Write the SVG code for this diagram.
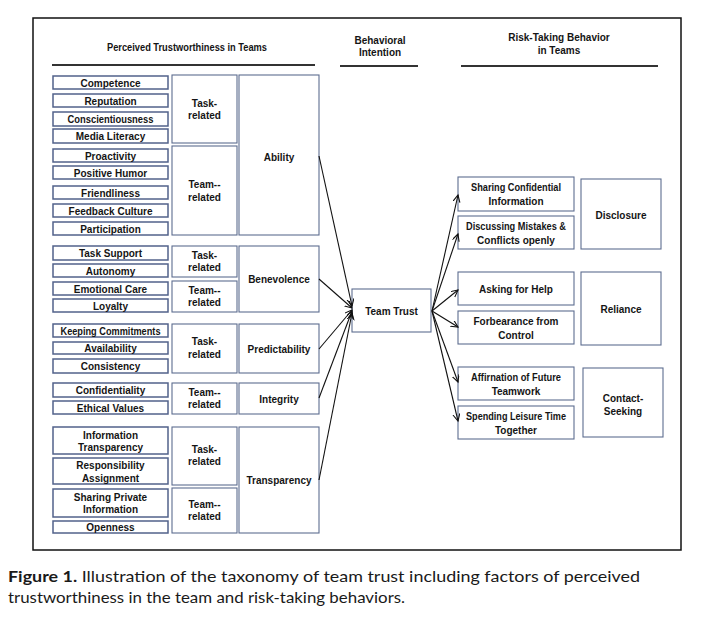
<svg xmlns="http://www.w3.org/2000/svg" width="713" height="627" viewBox="0 0 713 627">
<style>
  .bg { fill: #ffffff; }
  .frame { fill: none; stroke: #111; stroke-width: 1.5; }
  .hdr { stroke: #333; stroke-width: 2; }
  .b1 { fill: #fff; stroke: #52628a; stroke-width: 1.5; }
  .b2 { fill: #fff; stroke: #5d6d90; stroke-width: 1.1; }
  text.t { font-family: "Liberation Sans", Arial, sans-serif; font-weight: bold; font-size: 10px; fill: #151515; text-anchor: middle; }
  .cap { font-family: Lato, "Open Sans", sans-serif; font-size: 15px; fill: #1a1a1a; }
  .edge { fill: none; stroke: #111; stroke-width: 1.1; marker-end: url(#ah); }
</style>
<defs>
  <marker id="ah" markerUnits="userSpaceOnUse" markerWidth="10" markerHeight="10" refX="7" refY="3.5" orient="auto">
    <path d="M0,0 L7,3.5 L0,7" fill="none" stroke="#111" stroke-width="1.1"/>
  </marker>
</defs>
<rect class="bg" x="0" y="0" width="713" height="627"/>
<rect class="frame" x="33" y="18" width="648" height="532"/>

<g id="headers">
  <text class="t" x="187" y="51" textLength="160" lengthAdjust="spacingAndGlyphs">Perceived Trustworthiness in Teams</text>
  <line class="hdr" x1="52" y1="65" x2="315" y2="65"/>
  <text class="t" x="380" y="44">Behavioral</text>
  <text class="t" x="380" y="56">Intention</text>
  <line class="hdr" x1="340" y1="66" x2="418" y2="66"/>
  <text class="t" x="559" y="41">Risk-Taking Behavior</text>
  <text class="t" x="559" y="54">in Teams</text>
  <line class="hdr" x1="461" y1="66" x2="658" y2="66"/>
</g>

<!-- Column 1: items -->
<g id="competence"><rect class="b1" x="53" y="76" width="115" height="13"/><text class="t" x="110.5" y="86.5">Competence</text></g>
<g id="reputation"><rect class="b1" x="53" y="94" width="115" height="13"/><text class="t" x="110.5" y="104.5">Reputation</text></g>
<g id="conscientiousness"><rect class="b1" x="53" y="112" width="115" height="14"/><text class="t" x="110.5" y="123" textLength="86" lengthAdjust="spacingAndGlyphs">Conscientiousness</text></g>
<g id="media-literacy"><rect class="b1" x="53" y="129" width="115" height="14"/><text class="t" x="110.5" y="140">Media Literacy</text></g>
<g id="proactivity"><rect class="b1" x="53" y="149" width="115" height="13"/><text class="t" x="110.5" y="159.5">Proactivity</text></g>
<g id="positive-humor"><rect class="b1" x="53" y="166" width="115" height="13"/><text class="t" x="110.5" y="176.5">Positive Humor</text></g>
<g id="friendliness"><rect class="b1" x="53" y="186" width="115" height="13"/><text class="t" x="110.5" y="196.5">Friendliness</text></g>
<g id="feedback-culture"><rect class="b1" x="53" y="204" width="115" height="13"/><text class="t" x="110.5" y="214.5">Feedback Culture</text></g>
<g id="participation"><rect class="b1" x="53" y="222" width="115" height="13"/><text class="t" x="110.5" y="232.5">Participation</text></g>

<g id="task-support"><rect class="b1" x="53" y="246" width="115" height="14"/><text class="t" x="110.5" y="257">Task Support</text></g>
<g id="autonomy"><rect class="b1" x="53" y="264" width="115" height="13"/><text class="t" x="110.5" y="274.5">Autonomy</text></g>
<g id="emotional-care"><rect class="b1" x="53" y="282" width="115" height="13"/><text class="t" x="110.5" y="292.5">Emotional Care</text></g>
<g id="loyalty"><rect class="b1" x="53" y="299" width="115" height="13"/><text class="t" x="110.5" y="309.5">Loyalty</text></g>

<g id="keeping-commitments"><rect class="b1" x="53" y="324" width="115" height="13"/><text class="t" x="110.5" y="334.5" textLength="100" lengthAdjust="spacingAndGlyphs">Keeping Commitments</text></g>
<g id="availability"><rect class="b1" x="53" y="342" width="115" height="12"/><text class="t" x="110.5" y="352">Availability</text></g>
<g id="consistency"><rect class="b1" x="53" y="359" width="115" height="14"/><text class="t" x="110.5" y="370">Consistency</text></g>

<g id="confidentiality"><rect class="b1" x="53" y="383" width="115" height="14"/><text class="t" x="110.5" y="394">Confidentiality</text></g>
<g id="ethical-values"><rect class="b1" x="53" y="401" width="115" height="13"/><text class="t" x="110.5" y="411.5">Ethical Values</text></g>

<g id="information-transparency"><rect class="b1" x="53" y="427" width="115" height="27"/><text class="t" x="110.5" y="438.5">Information</text><text class="t" x="110.5" y="451">Transparency</text></g>
<g id="responsibility-assignment"><rect class="b1" x="53" y="458" width="115" height="26"/><text class="t" x="110.5" y="469">Responsibility</text><text class="t" x="110.5" y="481.5">Assignment</text></g>
<g id="sharing-private-information"><rect class="b1" x="53" y="489" width="115" height="28"/><text class="t" x="110.5" y="500.5">Sharing Private</text><text class="t" x="110.5" y="513">Information</text></g>
<g id="openness"><rect class="b1" x="53" y="521" width="115" height="12"/><text class="t" x="110.5" y="531">Openness</text></g>

<!-- Column 2: categories -->
<g id="ability-task"><rect class="b2" x="172" y="75" width="65" height="68"/><text class="t" x="204.5" y="106.5">Task-</text><text class="t" x="204.5" y="119">related</text></g>
<g id="ability-team"><rect class="b2" x="172" y="146" width="65" height="89"/><text class="t" x="204.5" y="188">Team--</text><text class="t" x="204.5" y="200.5">related</text></g>
<g id="benevolence-task"><rect class="b2" x="172" y="246" width="65" height="31"/><text class="t" x="204.5" y="258.5">Task-</text><text class="t" x="204.5" y="271">related</text></g>
<g id="benevolence-team"><rect class="b2" x="172" y="281" width="65" height="31"/><text class="t" x="204.5" y="293.5">Team--</text><text class="t" x="204.5" y="306">related</text></g>
<g id="predictability-task"><rect class="b2" x="172" y="324" width="65" height="49"/><text class="t" x="204.5" y="345">Task-</text><text class="t" x="204.5" y="357.5">related</text></g>
<g id="integrity-team"><rect class="b2" x="172" y="383" width="65" height="31"/><text class="t" x="204.5" y="395.5">Team--</text><text class="t" x="204.5" y="408">related</text></g>
<g id="transparency-task"><rect class="b2" x="172" y="427" width="65" height="58"/><text class="t" x="204.5" y="452.5">Task-</text><text class="t" x="204.5" y="465">related</text></g>
<g id="transparency-team"><rect class="b2" x="172" y="488" width="65" height="45"/><text class="t" x="204.5" y="507.5">Team--</text><text class="t" x="204.5" y="520">related</text></g>

<!-- Column 3: dimensions -->
<g id="ability"><rect class="b2" x="239" y="75" width="80" height="160"/><text class="t" x="279" y="160.5">Ability</text></g>
<g id="benevolence"><rect class="b2" x="239" y="246" width="80" height="66"/><text class="t" x="279" y="283">Benevolence</text></g>
<g id="predictability"><rect class="b2" x="239" y="324" width="80" height="49"/><text class="t" x="279" y="352.5">Predictability</text></g>
<g id="integrity"><rect class="b2" x="239" y="383" width="80" height="31"/><text class="t" x="279" y="402.5">Integrity</text></g>
<g id="transparency"><rect class="b2" x="239" y="427" width="80" height="106"/><text class="t" x="279" y="483.5">Transparency</text></g>

<!-- Center -->
<g id="team-trust"><rect class="b2" x="352" y="289" width="79" height="43"/><text class="t" x="391.5" y="314.5">Team Trust</text></g>

<!-- Right: behaviors -->
<g id="sharing-confidential"><rect class="b2" x="458" y="177" width="116" height="34"/><text class="t" x="516" y="191" textLength="90" lengthAdjust="spacingAndGlyphs">Sharing Confidential</text><text class="t" x="516" y="204.5">Information</text></g>
<g id="discussing-mistakes"><rect class="b2" x="458" y="216" width="116" height="33"/><text class="t" x="516" y="230" textLength="100" lengthAdjust="spacingAndGlyphs">Discussing Mistakes &amp;</text><text class="t" x="516" y="243.5">Conflicts openly</text></g>
<g id="asking-for-help"><rect class="b2" x="458" y="272" width="116" height="33"/><text class="t" x="516" y="292.5">Asking for Help</text></g>
<g id="forbearance"><rect class="b2" x="458" y="311" width="116" height="33"/><text class="t" x="516" y="325">Forbearance from</text><text class="t" x="516" y="338.5">Control</text></g>
<g id="affirnation"><rect class="b2" x="458" y="367" width="116" height="33"/><text class="t" x="516" y="381" textLength="90" lengthAdjust="spacingAndGlyphs">Affirnation of Future</text><text class="t" x="516" y="394.5">Teamwork</text></g>
<g id="spending-leisure"><rect class="b2" x="458" y="406" width="116" height="33"/><text class="t" x="516" y="420" textLength="100" lengthAdjust="spacingAndGlyphs">Spending Leisure Time</text><text class="t" x="516" y="433.5">Together</text></g>

<!-- Right: categories -->
<g id="disclosure"><rect class="b2" x="581" y="179" width="80" height="70"/><text class="t" x="621" y="218.5">Disclosure</text></g>
<g id="reliance"><rect class="b2" x="581" y="272" width="80" height="73"/><text class="t" x="621" y="312.5">Reliance</text></g>
<g id="contact-seeking"><rect class="b2" x="583" y="368" width="80" height="69"/><text class="t" x="623" y="402">Contact-</text><text class="t" x="623" y="414.5">Seeking</text></g>

<g id="connectors">
  <line class="edge" x1="319" y1="156" x2="352" y2="306"/>
  <line class="edge" x1="319" y1="279" x2="352" y2="308"/>
  <line class="edge" x1="319" y1="349" x2="352" y2="310"/>
  <line class="edge" x1="319" y1="398" x2="352" y2="311"/>
  <line class="edge" x1="319" y1="480" x2="352" y2="313"/>
  <line class="edge" x1="432" y1="311" x2="458" y2="195"/>
  <line class="edge" x1="432" y1="311" x2="458" y2="234"/>
  <line class="edge" x1="432" y1="311" x2="458" y2="290"/>
  <line class="edge" x1="432" y1="311" x2="458" y2="327"/>
  <line class="edge" x1="432" y1="311" x2="458" y2="382"/>
  <line class="edge" x1="432" y1="311" x2="458" y2="421"/>
</g>

<g id="caption">
  <text class="cap" x="8" y="582" textLength="632" lengthAdjust="spacingAndGlyphs"><tspan font-weight="bold">Figure 1.</tspan> Illustration of the taxonomy of team trust including factors of perceived</text>
  <text class="cap" x="8" y="603" textLength="397" lengthAdjust="spacingAndGlyphs">trustworthiness in the team and risk-taking behaviors.</text>
</g>
</svg>
